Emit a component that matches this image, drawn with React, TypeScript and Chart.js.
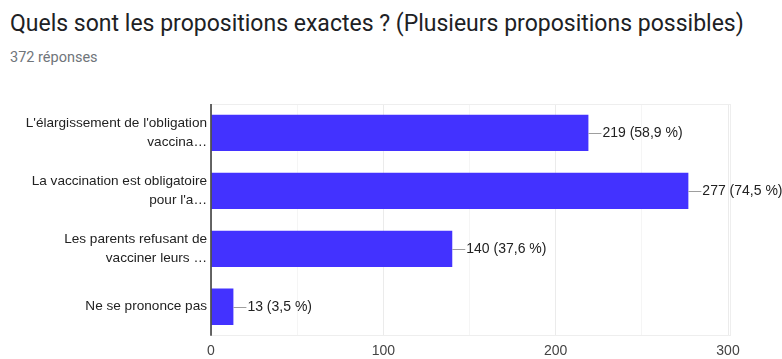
import React, { useEffect, useRef } from "react";
import { Chart, registerables } from "chart.js";

Chart.register(...registerables);

const TITLE = "Quels sont les propositions exactes ? (Plusieurs propositions possibles)";
const RESPONSES = 372;
const SUBTITLE = `${RESPONSES} réponses`;

const categories: string[][] = [
  ["L'élargissement de l'obligation", "vaccina…"],
  ["La vaccination est obligatoire", "pour l'a…"],
  ["Les parents refusant de", "vacciner leurs …"],
  ["Ne se prononce pas"],
];
const counts: number[] = [219, 277, 140, 13];
const xTicks: number[] = [0, 100, 200, 300];

const BAR_COLOR = "#4332ff";
const FONT = "Arial, 'Liberation Sans', sans-serif";

const labelPlugin = {
  id: "valueLabels",
  afterDatasetsDraw(chart: any) {
    const ctx = chart.ctx;
    const meta = chart.getDatasetMeta(0);
    ctx.save();
    meta.data.forEach((bar: any, i: number) => {
      const v = counts[i];
      const pct = ((v / RESPONSES) * 100).toFixed(1).replace(".", ",");
      const x = bar.x;
      const y = Math.round(bar.y) + 0.5;
      ctx.strokeStyle = "#9e9e9e";
      ctx.lineWidth = 1;
      ctx.beginPath();
      ctx.moveTo(x, y);
      ctx.lineTo(x + 13, y);
      ctx.stroke();
      ctx.fillStyle = "#222222";
      ctx.font = `14px ${FONT}`;
      ctx.textAlign = "left";
      ctx.textBaseline = "middle";
      ctx.fillText(`${v} (${pct} %)`, x + 14, y);
    });
    ctx.restore();
  },
};

const framePlugin = {
  id: "frame",
  beforeDatasetsDraw(chart: any) {
    const { ctx, chartArea } = chart;
    ctx.save();
    ctx.strokeStyle = "#eeeeee";
    ctx.lineWidth = 1;
    ctx.beginPath();
    ctx.moveTo(chartArea.left, Math.round(chartArea.top) + 0.5);
    ctx.lineTo(chartArea.right + 3, Math.round(chartArea.top) + 0.5);
    ctx.moveTo(chartArea.left, Math.round(chartArea.bottom) - 0.5);
    ctx.lineTo(chartArea.right + 3, Math.round(chartArea.bottom) - 0.5);
    ctx.moveTo(Math.round(chartArea.right) + 2.5, chartArea.top);
    ctx.lineTo(Math.round(chartArea.right) + 2.5, chartArea.bottom);
    ctx.stroke();
    ctx.restore();
  },
  afterDatasetsDraw(chart: any) {
    const { ctx, chartArea } = chart;
    ctx.save();
    ctx.strokeStyle = "#333333";
    ctx.lineWidth = 1.5;
    ctx.beginPath();
    ctx.moveTo(chartArea.left, chartArea.top);
    ctx.lineTo(chartArea.left, chartArea.bottom);
    ctx.stroke();
    ctx.restore();
  },
};

export default function App() {
  const ref = useRef<HTMLCanvasElement | null>(null);

  useEffect(() => {
    document.body.style.margin = "0";
    const canvas = ref.current;
    if (!canvas) return;
    const chart = new Chart(canvas, {
      type: "bar",
      data: {
        labels: categories,
        datasets: [
          {
            data: counts,
            backgroundColor: BAR_COLOR,
            borderWidth: 0,
            barPercentage: 0.627,
            categoryPercentage: 1,
          },
        ],
      },
      options: {
        indexAxis: "y",
        animation: false,
        responsive: false,
        maintainAspectRatio: false,
        layout: { padding: { top: 104, right: 54, bottom: 0, left: 0 } },
        plugins: {
          legend: { display: false },
          tooltip: { enabled: false },
          title: { display: false },
        },
        scales: {
          x: {
            min: xTicks[0],
            max: xTicks[xTicks.length - 1],
            afterBuildTicks(scale: any) {
              const t: any[] = [];
              for (let v = xTicks[0]; v <= xTicks[xTicks.length - 1]; v += 50) t.push({ value: v });
              scale.ticks = t;
            },
            afterFit(scale: any) {
              scale.height = 21;
            },
            ticks: {
              autoSkip: false,
              maxRotation: 0,
              padding: 7,
              color: "#444444",
              font: { family: FONT, size: 14 },
              callback: (v: any) => (xTicks.includes(Number(v)) ? String(v) : ""),
            },
            grid: {
              drawTicks: false,
              color: (c: any) =>
                c.tick && xTicks.includes(c.tick.value) ? "#ebebeb" : "#f5f5f5",
            },
            border: { display: false },
          },
          y: {
            afterFit(scale: any) {
              scale.width = 211;
            },
            ticks: {
              padding: 4,
              color: "#222222",
              font: { family: FONT, size: 13.6, lineHeight: 1.42 },
            },
            grid: { display: false, drawTicks: false },
            border: { display: false },
          },
        },
      },
      plugins: [framePlugin, labelPlugin],
    });
    return () => chart.destroy();
  }, []);

  return (
    <div style={{ position: "fixed", left: 0, top: 0, width: 782, height: 359, background: "#fff" }}>
      <div
        style={{
          position: "absolute",
          left: 10,
          top: 10,
          fontFamily: "Roboto, sans-serif",
          fontSize: 23,
          lineHeight: "28px",
          color: "#202124",
          whiteSpace: "nowrap",
        }}
      >
        {TITLE}
      </div>
      <div
        style={{
          position: "absolute",
          left: 10,
          top: 49,
          fontFamily: "Roboto, sans-serif",
          fontSize: 14.5,
          lineHeight: "18px",
          color: "#70757a",
          whiteSpace: "nowrap",
        }}
      >
        {SUBTITLE}
      </div>
      <canvas ref={ref} width={782} height={359} style={{ position: "absolute", left: 0, top: 0 }} />
    </div>
  );
}
